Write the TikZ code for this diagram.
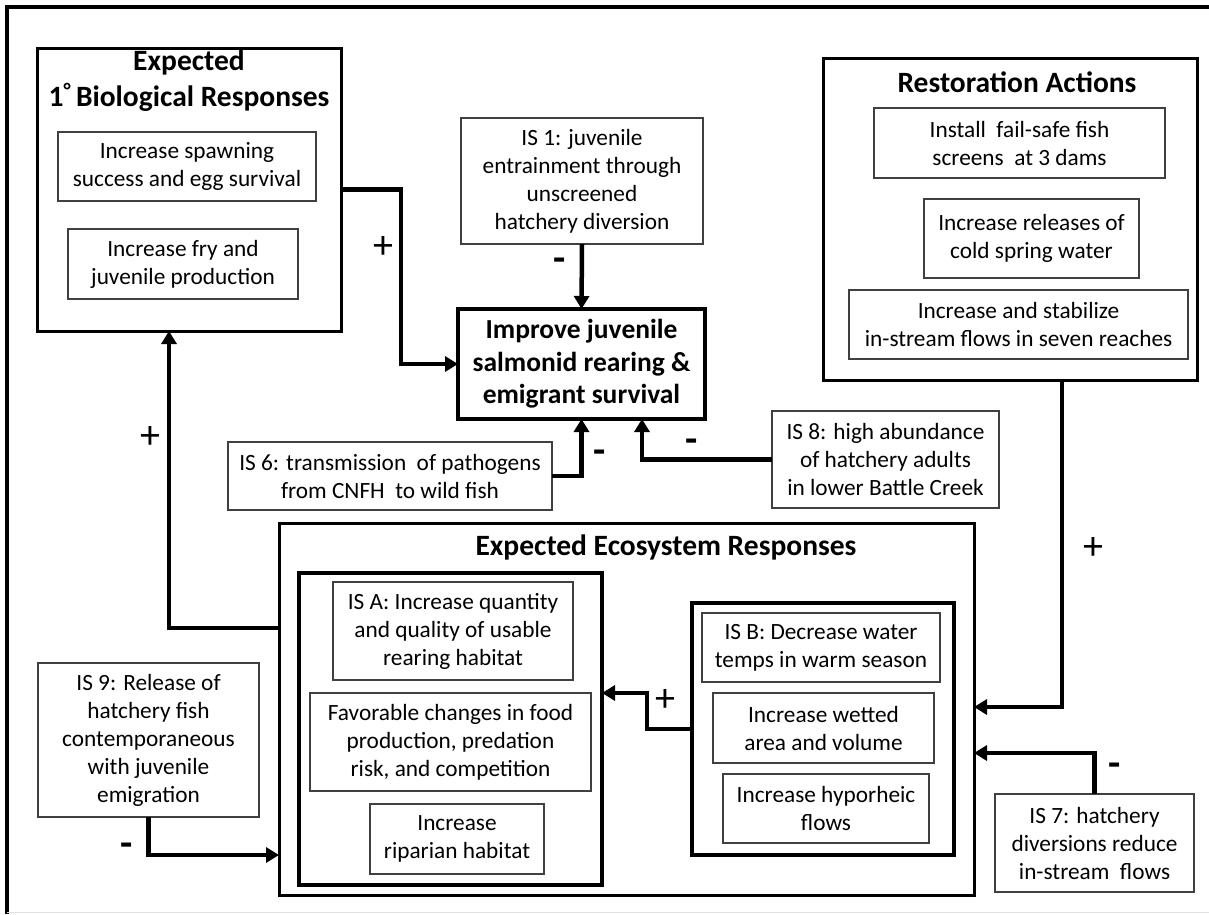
\documentclass[tikz,border=0pt]{standalone}
\usepackage{fontspec}
\setmainfont{Carlito}
\usetikzlibrary{arrows.meta}

\begin{document}
\begin{tikzpicture}[x=1pt,y=-1pt,
  % a rectangle given by its corners: left/top/right/bottom
  span/.style args={#1/#2/#3/#4}{minimum width={(#3-#1)*1pt}, minimum height={(#4-#2)*1pt},
       at={({(#1+#3)/2},{(#2+#4)/2})}, inner sep=0pt, outer sep=0pt},
  txt/.style={font=\fontsize{23.3}{28}\selectfont, align=center},
  sub/.style={draw=black!75, line width=1.3pt, txt},
  grp/.style={draw=black, line width=3pt},
  ttl/.style={font=\fontsize{29.5}{36}\selectfont\bfseries, align=center, inner sep=0pt},
  arr/.style={line width=4.5pt, -{Triangle[width=15pt,length=13pt]}},
  sgn/.style={font=\fontsize{40}{40}\selectfont, inner sep=0pt},
]
\useasboundingbox (0,0) rectangle (1209,914);

% page frame
\draw[line width=3.5pt] (7,914) -- (7,7) -- (1209,7);
\draw[black!12, line width=1pt] (7,912.5) -- (1209,912.5);

% primary biological responses
\node[grp, span=37/48/341/331] (bio) {};
\node[ttl] (biot) at (189,81) {Expected\\1\textsuperscript{°}\,Biological Responses};
\node[sub, span=58/132/316/201] (spawn) {Increase spawning\\success and egg survival};
\node[sub, span=68/229/298/299] (fry) {Increase fry and\\juvenile production};

% central outcome and stressors around it
\node[sub, span=461/118/703/244] (is1) {IS 1: juvenile\\entrainment through\\unscreened\\hatchery diversion};
\node[draw, line width=4pt, span=458/309/705/419,
      font=\fontsize{27.5}{32.5}\selectfont\bfseries, align=center] (improve)
      {Improve\ juvenile\\salmonid rearing \&\\emigrant survival};
\node[sub, span=228/442/552/510] (is6) {IS 6: transmission\ \ of pathogens\\from CNFH\ \ to wild fish};
\node[sub, span=772/411/999/508] (is8) {IS 8: high abundance\\of hatchery adults\\in lower Battle Creek};

% restoration actions
\node[grp, span=823/58/1197/380] (rest) {};
\node[ttl] (restt) at (1017,82) {Restoration Actions};
\node[sub, span=874/108/1165/178] (install) {Install\ \ fail-safe fish\\screens\ \ at 3 dams};
\node[sub, span=924/199/1139/278] (cold) {Increase releases of\\cold spring water};
\node[sub, span=849/290/1188/359] (stab) {Increase and stabilize\\in-stream flows in seven reaches};

% ecosystem responses
\node[grp, span=279/523/974/895] (eco) {};
\node[ttl] (ecot) at (666,547) {Expected Ecosystem Responses};
\node[draw, line width=3.5pt, span=299/573/602/885] (isagrp) {};
\node[sub, span=333/582/573/680] (isa) {IS A: Increase quantity\\and quality of usable\\rearing habitat};
\node[sub, span=310/693/591/791] (favor) {Favorable changes in food\\production, predation\\risk, and competition};
\node[sub, span=370/804/544/874] (ripar) {Increase\\riparian habitat};
\node[draw, line width=3.5pt, span=692/603/954/855] (isbgrp) {};
\node[sub, span=702/613/940/682] (isb) {IS B: Decrease water\\temps in warm season};
\node[sub, span=713/693/934/763] (wet) {Increase wetted\\area and volume};
\node[sub, span=723/774/929/843] (hypo) {Increase hyporheic\\flows};

% remaining stressors
\node[sub, span=38/663/259/817] (is9) {IS 9: Release of\\hatchery fish\\contemporaneous\\with juvenile\\emigration};
\node[sub, span=995/794/1194/892] (is7) {IS 7: hatchery\\diversions reduce\\in-stream\ \ flows};

% connectors
\draw[arr] (bio.east) -- ++(60,0) |- (improve.west);
\draw[arr] (is1.south) -- (improve.north);
\draw[arr] (is6.east) -| (improve.south);
\draw[arr] (is8.west) -| ([xshift=60.5pt]improve.south);
\draw[arr] ([xshift=52pt]rest.south) |- ([yshift=2pt]eco.east);
\draw[arr] (is7.north) |- ([yshift=-44pt]eco.east);
\draw[arr] (isbgrp.west) -- ++(-45,0) |- ([yshift=36pt]isagrp.east);
\draw[arr] ([yshift=81pt]eco.west) -| ([xshift=-20pt]bio.south);
\draw[arr] (is9.south) |- ([yshift=-146pt]eco.west);

% signs
\node[sgn] (s1) at (383,247) {+};
\node[sgn] (s2) at (560,265) {\textbf{-}};
\node[sgn] (s3) at (600,457) {\textbf{-}};
\node[sgn] (s4) at (692,446) {\textbf{-}};
\node[sgn] (s5) at (1093,548) {+};
\node[sgn] (s6) at (1115,770) {\textbf{-}};
\node[sgn] (s7) at (665,700) {+};
\node[sgn] (s8) at (150,437) {+};
\node[sgn] (s9) at (127,850) {\textbf{-}};
\end{tikzpicture}
\end{document}
